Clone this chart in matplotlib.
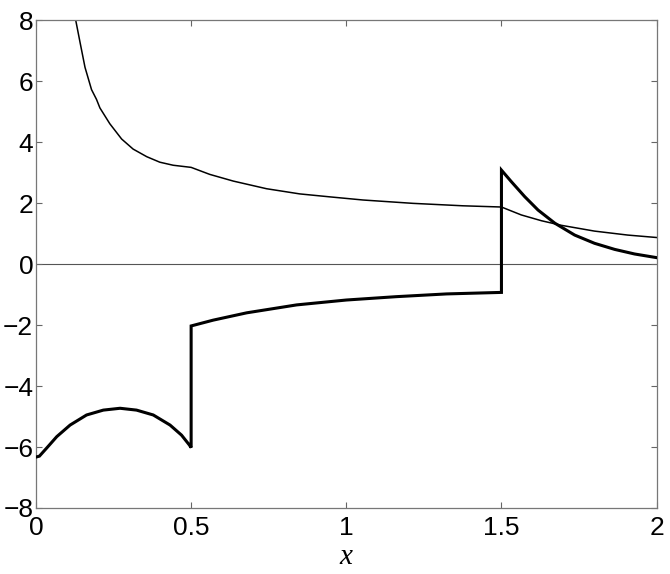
import matplotlib
matplotlib.use("Agg")
import matplotlib.pyplot as plt

# thin curve
thin_x = [0.128, 0.142, 0.158, 0.179, 0.195, 0.206, 0.238, 0.276, 0.313, 0.357, 0.399,
          0.442, 0.5, 0.560, 0.636, 0.743, 0.850, 0.950, 1.054, 1.215, 1.376,
          1.5, 1.564, 1.629, 1.693, 1.800, 1.907, 2.0]
thin_y = [8.0, 7.27, 6.45, 5.72, 5.40, 5.12, 4.60, 4.10, 3.77, 3.52, 3.34,
          3.24, 3.17, 2.94, 2.72, 2.47, 2.30, 2.20, 2.10, 1.99, 1.91,
          1.87, 1.61, 1.42, 1.27, 1.08, 0.95, 0.87]

# thick curve (with jumps at 0.5 and 1.5)
thick_x = [0.0, 0.011, 0.034, 0.067, 0.110, 0.163, 0.217, 0.271, 0.324, 0.378,
           0.432, 0.469, 0.494, 0.5,
           0.5, 0.571, 0.679, 0.840, 1.0, 1.161, 1.323, 1.5,
           1.5, 1.532, 1.575, 1.618, 1.672, 1.736, 1.800, 1.865, 1.929, 2.0]
thick_y = [-6.33, -6.30, -6.04, -5.66, -5.28, -4.95, -4.79, -4.73, -4.79, -4.95,
           -5.28, -5.61, -5.93, -6.02,
           -2.03, -1.84, -1.60, -1.34, -1.18, -1.07, -0.98, -0.93,
           3.08, 2.70, 2.21, 1.77, 1.34, 0.95, 0.68, 0.48, 0.33, 0.21]

xticks = [0, 0.5, 1, 1.5, 2]
xticklabels = ["0", "0.5", "1", "1.5", "2"]
yticks = [-8, -6, -4, -2, 0, 2, 4, 6, 8]
yticklabels = ["\u22128", "\u22126", "\u22124", "\u22122", "0", "2", "4", "6", "8"]

plt.rcParams['font.family'] = ['Liberation Sans', 'DejaVu Sans']
fig = plt.figure(figsize=(6.7, 5.74), dpi=100)
ax = fig.add_axes([0.0537, 0.115, 0.9263, 0.850])

ax.axhline(0, color='#555555', lw=0.8, zorder=1)
ax.plot(thin_x, thin_y, color='black', lw=1.1, zorder=2, solid_joinstyle='round')
ax.plot(thick_x, thick_y, color='black', lw=2.2, zorder=3, solid_joinstyle='miter')

ax.set_xlim(0, 2)
ax.set_ylim(-8, 8)
ax.set_xticks(xticks)
ax.set_xticklabels(xticklabels)
ax.set_yticks(yticks)
ax.set_yticklabels(yticklabels)
ax.tick_params(direction='in', length=4, width=0.8, colors='#666666',
               labelcolor='black', labelsize=19, top=True, right=True)
ax.tick_params(axis='x', pad=6)
ax.tick_params(axis='y', pad=2)
for s in ax.spines.values():
    s.set_color('#777777')
    s.set_linewidth(0.9)
ax.set_xlabel('x', fontsize=21, family='Liberation Serif', style='italic', labelpad=3)

fig.savefig('out.png', dpi=100)
